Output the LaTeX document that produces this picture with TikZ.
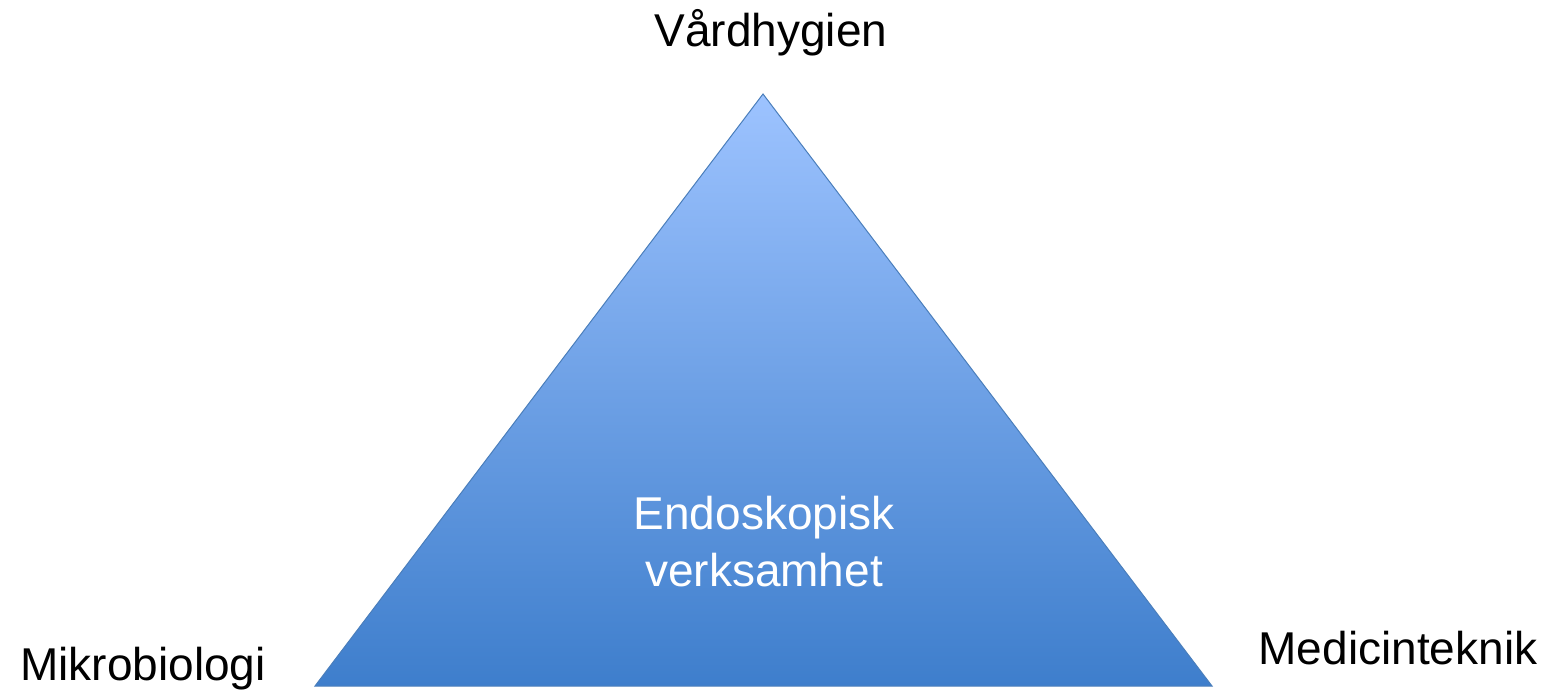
\documentclass[tikz,border=0pt]{standalone}
\usepackage{fontspec}
\setmainfont{Liberation Sans}
\definecolor{topblue}{RGB}{157,195,255}
\definecolor{botblue}{RGB}{62,126,204}
\definecolor{edgeblue}{RGB}{74,126,187}
\begin{document}
\begin{tikzpicture}[x=1pt,y=-1pt,
  lbl/.style={font=\fontsize{46}{56}\selectfont, inner sep=0pt, anchor=base},
  inlbl/.style={lbl, text=white, align=center}]
\useasboundingbox (0,0) rectangle (1548,690);
\coordinate (apex) at (763,94);
\coordinate (bl) at (315,686);
\coordinate (br) at (1212,686);
\shade[top color=topblue, bottom color=botblue, draw=edgeblue, line width=1pt]
  (apex) -- (br) -- (bl) -- cycle;
\node[lbl] (vard) at (771,47) {Vårdhygien};
\node[lbl] (mikro) at (143,680) {Mikrobiologi};
\node[lbl] (medic) at (1398,664) {Medicinteknik};
\node[lbl, text=white] (endo1) at (764,529) {Endoskopisk};
\node[lbl, text=white] (endo2) at (764,586) {verksamhet};
\end{tikzpicture}
\end{document}
